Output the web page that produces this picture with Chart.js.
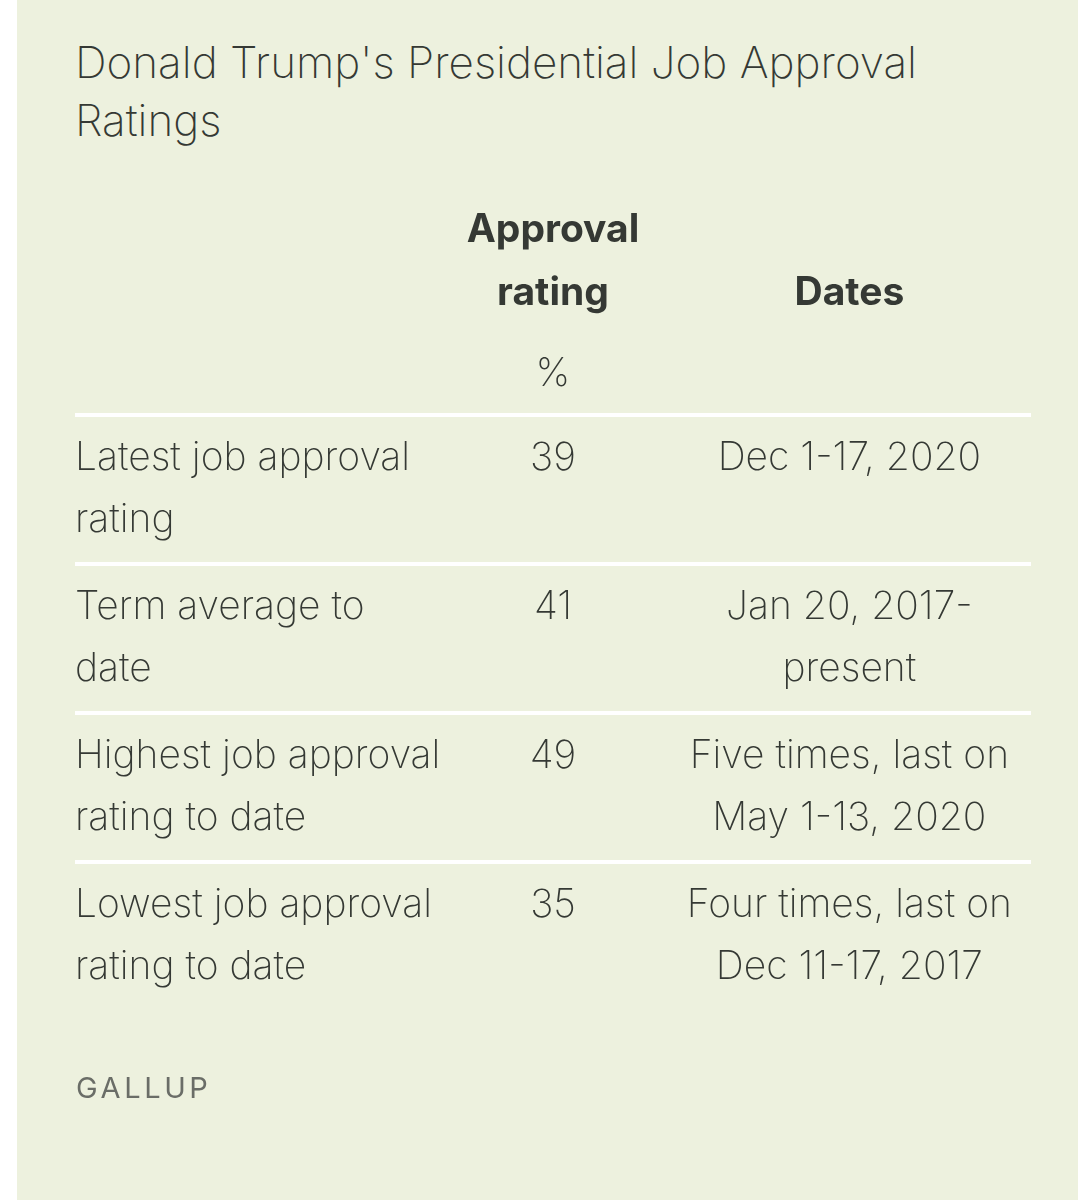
<!DOCTYPE html>
<html>
<head>
<meta charset="utf-8">
<script src="https://cdn.jsdelivr.net/npm/chart.js@4"></script>
<style>
  html, body { margin: 0; padding: 0; background: #ffffff; }
  body { width: 1078px; height: 1200px; position: relative; overflow: hidden; }
  #panel { position: absolute; left: 17px; top: 0; width: 1061px; height: 1200px; background: #edf1de; }
  #title { position: absolute; left: 75px; top: 33px; width: 960px; font-family: Inter, "Noto Sans", sans-serif;
           font-weight: 240; font-size: 44px; line-height: 58px; color: #353934; }
  #source { position: absolute; left: 76px; top: 1073px; font-family: Inter, "Noto Sans", sans-serif;
            font-weight: 400; font-size: 29px; line-height: 30px; letter-spacing: 3.6px; color: #6a6d67; }
  #wrap { position: absolute; left: 0; top: 0; width: 1078px; height: 1200px; }
</style>
</head>
<body>
<div id="panel"></div>
<div id="title">Donald Trump's Presidential Job Approval<br>Ratings</div>
<div id="wrap"><canvas id="tbl"></canvas></div>
<div id="source">GALLUP</div>
<script>
const rowLabels = [
    ["Latest job approval", "rating"],
    ["Term average to", "date"],
    ["Highest job approval", "rating to date"],
    ["Lowest job approval", "rating to date"]
];

const approval = [39, 41, 49, 35];

const dates = [
    ["Dec 1-17, 2020"],
    ["Jan 20, 2017-", "present"],
    ["Five times, last on", "May 1-13, 2020"],
    ["Four times, last on", "Dec 11-17, 2017"]
];

const colApproval = ["Approval", "rating"];
const colApprovalUnit = "%";
const colDates = ["Dates"];

const FONT = "Inter, 'Noto Sans', sans-serif";
const INK = "#353934";
const LIGHT = 230;
const SIZE = 39;
const VALUE_X = 50;
const DATES_X = 81;
const LINE = 62;

const tableText = {
    id: "tableText",
    afterDatasetsDraw(chart) {
        const ctx = chart.ctx;
        const x = chart.scales.x;
        const top = chart.chartArea.top;
        ctx.save();
        ctx.fillStyle = INK;
        ctx.textAlign = "center";
        ctx.textBaseline = "middle";

        // header
        ctx.font = "700 " + SIZE + "px " + FONT;
        colApproval.forEach((t, i) =>
            ctx.fillText(t, x.getPixelForValue(VALUE_X), top - 185 + i * 63)
        );
        colDates.forEach((t, i) =>
            ctx.fillText(t, x.getPixelForValue(DATES_X), top - 122 + i * 63)
        );
        ctx.font = LIGHT + " " + SIZE + "px " + FONT;
        ctx.fillText(colApprovalUnit, x.getPixelForValue(VALUE_X), top - 41);

        // cells
        chart.data.datasets.forEach((ds, di) => {
            const meta = chart.getDatasetMeta(di);
            meta.data.forEach((pt, i) => {
                const lines = [].concat(ds.cellText[i]);
                lines.forEach((t, li) =>
                    ctx.fillText(String(t), pt.x, pt.y - LINE / 2 + li * LINE)
                );
            });
        });
        ctx.restore();
    }
};

new Chart(document.getElementById("tbl").getContext("2d"), {
    type: "scatter",
    data: {
        datasets: [
            {
                label: "Approval rating %",
                data: approval.map((v, i) => ({ x: VALUE_X, y: i })),
                cellText: approval,
                pointRadius: 0
            },
            {
                label: "Dates",
                data: dates.map((d, i) => ({ x: DATES_X, y: i })),
                cellText: dates,
                pointRadius: 0
            }
        ]
    },
    options: {
        responsive: true,
        maintainAspectRatio: false,
        animation: false,
        events: [],
        layout: {
            padding: { left: 75, right: 47, top: 415, bottom: 189 }
        },
        plugins: {
            legend: { display: false },
            tooltip: { enabled: false }
        },
        scales: {
            x: {
                type: "linear",
                min: 0,
                max: 100,
                display: false
            },
            y: {
                type: "category",
                labels: rowLabels,
                offset: true,
                afterFit: s => { s.width = 0; },
                border: { display: false },
                grid: {
                    offset: true,
                    drawTicks: false,
                    lineWidth: 4,
                    color: c => c.tick ? "#ffffff" : "rgba(0,0,0,0)"
                },
                ticks: {
                    mirror: true,
                    padding: 0,
                    color: INK,
                    font: { family: FONT, size: SIZE, weight: LIGHT, lineHeight: LINE + "px" }
                }
            }
        }
    },
    plugins: [tableText]
});
</script>
</body>
</html>
